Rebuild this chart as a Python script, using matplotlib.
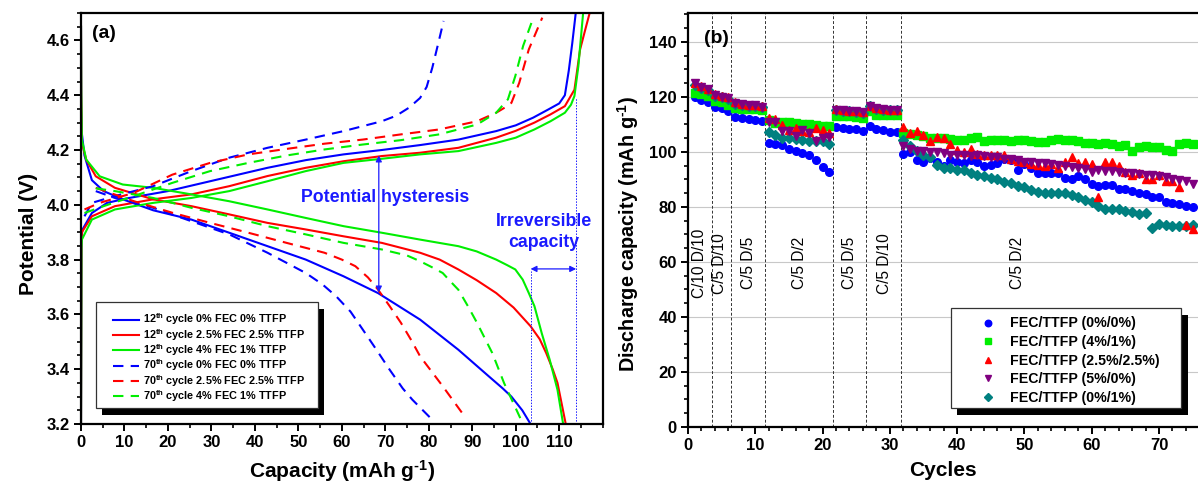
import numpy as np
import matplotlib
matplotlib.use("Agg")
import matplotlib.pyplot as plt
from matplotlib.patches import Rectangle
from matplotlib.transforms import IdentityTransform
from matplotlib.ticker import MultipleLocator

plt.rcParams['font.family'] = ['Liberation Sans', 'DejaVu Sans']
plt.rcParams['font.weight'] = 'bold'
plt.rcParams['mathtext.fontset'] = 'custom'
plt.rcParams['mathtext.rm'] = 'Liberation Sans:bold'
plt.rcParams['mathtext.bf'] = 'Liberation Sans:bold'
plt.rcParams['mathtext.it'] = 'Liberation Sans:bold'

# ---------------- Panel (a) data: capacity (mAh/g) vs potential (V) ----------------
# 12th cycle 0% FEC 0% TTFP
cap_b12_chg = [0, 0.1, 0.35, 2.5, 6, 10.4, 20, 29.7, 42.9, 51.7, 60.4, 69.2, 78, 86.8, 95.5, 100, 104, 107.5, 110, 111.3, 112.2, 113, 113.8]
v_b12_chg = [3.2, 3.88, 3.91, 3.97, 4.007, 4.023, 4.05, 4.086, 4.135, 4.163, 4.184, 4.20, 4.218, 4.238, 4.269, 4.29, 4.318, 4.348, 4.37, 4.40, 4.49, 4.59, 4.70]
cap_b12_dis = [0, 0.05, 0.2, 0.8, 2.5, 5.2, 9.6, 16.6, 25.4, 34.1, 42.9, 51.7, 60.4, 68.3, 78, 86.8, 93.8, 97, 99, 101.5, 103.4]
v_b12_dis = [4.65, 4.35, 4.26, 4.18, 4.09, 4.05, 4.02, 3.98, 3.946, 3.898, 3.849, 3.80, 3.739, 3.678, 3.581, 3.471, 3.374, 3.33, 3.30, 3.25, 3.2]
# 12th cycle 2.5% FEC 2.5% TTFP
cap_r12_chg = [0, 0.1, 0.2, 2.5, 7.8, 16.6, 25.4, 34.1, 42.9, 51.7, 60.4, 69.2, 78, 86.8, 95.5, 100, 104.3, 108, 111.3, 113.5, 114.8, 116, 117]
v_r12_chg = [3.2, 3.86, 3.90, 3.958, 3.995, 4.02, 4.038, 4.068, 4.105, 4.135, 4.159, 4.178, 4.19, 4.208, 4.245, 4.27, 4.30, 4.33, 4.36, 4.42, 4.567, 4.64, 4.70]
cap_r12_dis = [0, 0.05, 0.2, 1.2, 3.4, 7.8, 16.6, 25.4, 34.1, 42.9, 51.7, 60.4, 69.2, 78, 82.5, 86.8, 91, 95.5, 99.5, 103.4, 105.5, 107, 108.5, 109.6, 111.5]
v_r12_dis = [4.65, 4.40, 4.226, 4.165, 4.104, 4.062, 4.02, 3.995, 3.965, 3.934, 3.91, 3.885, 3.861, 3.825, 3.80, 3.764, 3.725, 3.678, 3.625, 3.557, 3.51, 3.459, 3.40, 3.35, 3.2]
# 12th cycle 4% FEC 1% TTFP
cap_g12_chg = [0, 0.1, 0.2, 2.5, 7.8, 16.6, 25.4, 34.1, 42.9, 51.7, 60.4, 69.2, 78, 86.8, 95.5, 100, 104.3, 108, 111.3, 112.7, 113.5, 114.4, 115.5]
v_g12_chg = [3.2, 3.84, 3.873, 3.946, 3.983, 4.007, 4.025, 4.05, 4.086, 4.123, 4.153, 4.168, 4.184, 4.196, 4.226, 4.245, 4.275, 4.305, 4.336, 4.365, 4.397, 4.506, 4.70]
cap_g12_dis = [0, 0.05, 0.2, 1.2, 4.3, 9.6, 16.6, 25.4, 34.1, 42.9, 51.7, 60.4, 69.2, 78, 86.8, 91, 95.5, 98, 99.9, 101.6, 103, 104.3, 106, 107.8, 109.6, 110.9]
v_g12_dis = [4.65, 4.42, 4.238, 4.165, 4.104, 4.074, 4.062, 4.038, 4.013, 3.983, 3.952, 3.922, 3.898, 3.873, 3.849, 3.83, 3.80, 3.78, 3.764, 3.727, 3.678, 3.63, 3.53, 3.435, 3.325, 3.2]
# 70th cycle 0% FEC 0% TTFP
cap_b70_chg = [0.8, 2.5, 7.8, 16.6, 25.4, 34.1, 42.9, 51.7, 60.4, 69.2, 72.5, 75.5, 78, 79.5, 80.8, 82.4, 83.4]
v_b70_chg = [3.958, 4.007, 4.032, 4.068, 4.123, 4.172, 4.208, 4.238, 4.269, 4.305, 4.325, 4.355, 4.39, 4.43, 4.50, 4.604, 4.671]
cap_b70_dis = [3.4, 7.8, 16.6, 25.4, 34.1, 42.9, 51.7, 55.5, 58.7, 62, 64.8, 68, 71, 74, 76.2, 80.2]
v_b70_dis = [4.05, 4.025, 3.989, 3.94, 3.892, 3.825, 3.751, 3.71, 3.666, 3.61, 3.545, 3.47, 3.398, 3.33, 3.289, 3.225]
# 70th cycle 2.5% FEC 2.5% TTFP
cap_r70_chg = [0.8, 4.3, 12.2, 21, 29.7, 38.5, 47.3, 56, 64.8, 73.6, 82.4, 91.1, 95.5, 97.5, 99, 100.8, 103, 106.1]
v_r70_chg = [3.983, 4.007, 4.044, 4.11, 4.153, 4.184, 4.204, 4.223, 4.238, 4.257, 4.275, 4.305, 4.336, 4.355, 4.372, 4.445, 4.567, 4.683]
cap_r70_dis = [3.4, 12.2, 21, 29.7, 38.5, 47.3, 56, 60, 63.1, 66, 68.3, 71, 73.6, 76, 78, 83.2, 88.5]
v_r70_dis = [4.062, 4.013, 3.971, 3.934, 3.898, 3.861, 3.825, 3.80, 3.776, 3.735, 3.691, 3.63, 3.569, 3.505, 3.447, 3.338, 3.222]
# 70th cycle 4% FEC 1% TTFP
cap_g70_chg = [0.8, 5.2, 12.2, 21, 29.7, 38.5, 47.3, 56, 64.8, 73.6, 82.4, 91.1, 95.5, 98.2, 99.9, 101.7, 103.9]
v_g70_chg = [3.97, 3.995, 4.032, 4.08, 4.123, 4.153, 4.18, 4.202, 4.22, 4.236, 4.257, 4.293, 4.336, 4.385, 4.47, 4.58, 4.677]
cap_g70_dis = [3.4, 7.8, 16.6, 25.4, 34.1, 42.9, 51.7, 60.4, 69.2, 75, 78, 81, 83.2, 85, 86.8, 89, 91.1, 94.6, 97.3, 101.2]
v_g70_dis = [4.06, 4.05, 4.025, 3.989, 3.958, 3.922, 3.892, 3.861, 3.837, 3.815, 3.794, 3.77, 3.751, 3.72, 3.69, 3.63, 3.569, 3.459, 3.35, 3.216]

labels_a = [r"12$^{\mathrm{th}}$ cycle 0% FEC 0% TTFP",
            r"12$^{\mathrm{th}}$ cycle 2.5% FEC 2.5% TTFP",
            r"12$^{\mathrm{th}}$ cycle 4% FEC 1% TTFP",
            r"70$^{\mathrm{th}}$ cycle 0% FEC 0% TTFP",
            r"70$^{\mathrm{th}}$ cycle 2.5% FEC 2.5% TTFP",
            r"70$^{\mathrm{th}}$ cycle 4% FEC 1% TTFP"]

# ---------------- Panel (b) data: discharge capacity vs cycle ----------------
cycles = np.arange(1, 76)
cap_0_0 = [120.0, 119.0, 118.0, 116.5, 115.8, 114.8, 112.6, 112.4, 111.9, 111.7, 111.4,
           103.4, 102.8, 102.6, 101.0, 100.4, 99.5, 98.9, 96.9, 94.5, 92.8,
           109.0, 108.6, 108.4, 108.3, 107.5,
           109.5, 108.3, 108.0, 107.4, 107.2,
           99.3, 99.8, 96.9, 96.2, 97.8, 96.2, 95.0, 96.9, 96.4, 96.0,
           97.1, 96.4, 95.0, 95.4, 95.9, 97.4, 97.0, 93.5, 95.7, 94.0,
           92.5, 92.3, 92.3, 92.3, 90.5, 90.1, 91.1, 90.1, 88.4, 87.7,
           88.0, 87.9, 86.6, 86.6, 85.9, 84.9, 84.7, 83.6, 83.6, 81.9,
           81.6, 80.9, 80.5, 79.9]
cap_4_1 = [121.5, 121.1, 120.4, 118.4, 118.1, 117.1, 115.8, 115.5, 115.5, 115.7, 115.3,
           111.5, 110.6, 110.7, 110.7, 110.5, 110.3, 110.3, 109.8, 109.6, 109.6,
           113.2, 113.2, 113.2, 112.8, 112.5,
           114.7, 113.5, 113.5, 113.5, 113.5,
           106.8, 106.6, 106.3, 105.8, 105.1, 105.1, 104.9, 104.6, 104.4, 104.4,
           105.1, 105.4, 103.9, 104.2, 104.2, 104.2, 103.9, 104.4, 104.2, 103.9,
           103.7, 103.7, 104.2, 104.6, 104.4, 104.2, 103.9, 103.2, 103.2, 102.9,
           103.4, 102.9, 102.0, 102.5, 100.5, 101.7, 102.0, 101.7, 101.7, 100.8,
           100.3, 102.9, 103.2, 102.9]
cap_25_25 = [125.0, 124.0, 123.0, 121.0, 120.5, 120.0, 118.0, 117.5, 117.2, 117.0, 116.8,
             112.3, 111.8, 109.8, 107.9, 108.6, 107.5, 107.2, 108.7, 108.1, 107.0,
             115.5, 115.3, 115.0, 114.8, 114.6,
             116.8, 116.0, 115.6, 115.4, 115.4,
             109.1, 106.9, 107.7, 106.2, 103.9, 105.5, 105.2, 102.7, 100.6, 100.0,
             101.2, 99.4, 98.8, 98.8, 99.0, 98.8, 97.6, 96.6, 96.2, 95.7,
             95.2, 95.0, 95.7, 94.0, 96.2, 98.3, 95.9, 96.2, 95.7, 83.6,
             96.4, 96.2, 94.7, 92.8, 91.6, 92.3, 90.3, 90.1, 91.6, 89.4,
             89.4, 87.2, 73.5, 72.0]
cap_5_0 = [124.9, 123.6, 122.8, 120.6, 120.0, 119.6, 117.8, 117.4, 117.0, 117.0, 116.5,
           111.0, 110.8, 107.5, 107.5, 105.8, 107.8, 106.9, 103.9, 105.0, 105.6,
           115.4, 115.2, 115.0, 114.7, 114.5,
           116.8, 115.8, 115.5, 115.3, 115.3,
           102.0, 101.0, 100.5, 100.2, 100.0, 99.8, 99.5, 99.0, 99.0, 98.8,
           98.6, 98.8, 98.5, 98.3, 98.0, 97.5, 97.3, 97.0, 96.5, 96.3,
           96.0, 95.8, 95.5, 95.3, 95.0, 94.5, 94.3, 93.8, 92.8, 93.3,
           93.2, 93.0, 92.8, 92.5, 92.3, 92.0, 91.7, 91.5, 91.2, 90.8,
           90.3, 89.8, 89.3, 88.5]
cap_0_1 = [124.5, 123.4, 122.6, 120.5, 119.8, 119.4, 117.6, 117.2, 116.8, 116.8, 116.4,
           107.1, 106.1, 105.2, 104.9, 104.6, 104.3, 104.0, 103.9, 104.0, 102.9,
           115.2, 115.0, 114.8, 114.5, 114.3,
           116.6, 115.6, 115.3, 115.1, 115.1,
           104.5, 102.2, 100.5, 98.9, 98.2, 95.3, 94.3, 94.0, 93.6, 93.4,
           92.2, 91.7, 91.3, 90.5, 90.0, 89.1, 88.8, 87.7, 87.2, 86.1,
           85.3, 84.9, 85.0, 85.1, 85.1, 84.4, 83.6, 82.5, 81.7, 80.3,
           79.3, 79.3, 79.2, 78.6, 78.0, 77.5, 77.9, 72.5, 73.8, 73.5,
           73.0, 73.0, 73.2, 73.6]
labels_b = ["FEC/TTFP (0%/0%)", "FEC/TTFP (4%/1%)", "FEC/TTFP (2.5%/2.5%)",
            "FEC/TTFP (5%/0%)", "FEC/TTFP (0%/1%)"]
rate_dividers = [3.5, 6.4, 11.5, 21.6, 26.4, 31.7]
rate_labels = ["C/10 D/10", "C/5 D/10", "C/5 D/5", "C/5 D/2", "C/5 D/5", "C/5 D/10", "C/5 D/2"]
rate_label_x = [1.7, 4.7, 9.0, 16.5, 24.0, 29.2, 49.0]

BLUE, RED, GREEN = '#0000ff', '#ff0000', '#00ee00'
PURPLE, TEAL = '#800080', '#008080'

fig = plt.figure(figsize=(11.98, 4.83), dpi=100)
W, H = 1198, 483
axa = fig.add_axes([81 / W, 1 - 424 / H, (602.7 - 81) / W, (424 - 13) / H])
axb = fig.add_axes([688 / W, 1 - 427 / H, (1198 - 688) / W, (427 - 13) / H])

lw = 1.5
dash = (0, (5, 3.5))
curves = [(cap_b12_chg, v_b12_chg, cap_b12_dis, v_b12_dis, BLUE, '-'),
          (cap_r12_chg, v_r12_chg, cap_r12_dis, v_r12_dis, RED, '-'),
          (cap_g12_chg, v_g12_chg, cap_g12_dis, v_g12_dis, GREEN, '-'),
          (cap_b70_chg, v_b70_chg, cap_b70_dis, v_b70_dis, BLUE, dash),
          (cap_r70_chg, v_r70_chg, cap_r70_dis, v_r70_dis, RED, dash),
          (cap_g70_chg, v_g70_chg, cap_g70_dis, v_g70_dis, GREEN, dash)]
handles_a = []
for (xc, yc, xd, yd, c, ls), lab in zip(curves, labels_a):
    h, = axa.plot(xc, yc, color=c, ls=ls, lw=lw, label=lab)
    axa.plot(xd, yd, color=c, ls=ls, lw=lw)
    handles_a.append(h)

axa.set_xlim(0, 120)
axa.set_ylim(3.2, 4.7)
axa.set_xticks(np.arange(0, 111, 10))
axa.set_yticks(np.arange(3.2, 4.61, 0.2))
axa.set_yticklabels([f"{v:.1f}" for v in np.arange(3.2, 4.61, 0.2)])
axa.xaxis.set_minor_locator(MultipleLocator(5))
axa.yaxis.set_minor_locator(MultipleLocator(0.05))
axa.set_xlabel(r"Capacity (mAh g$^{\text{-}1}$)", fontsize=15, fontweight='bold', labelpad=6)
axa.set_ylabel("Potential (V)", fontsize=15, fontweight='bold', labelpad=6)
axa.yaxis.label.set_y(0.462)
axa.text(2.5, 4.627, "(a)", fontsize=14, fontweight='bold', va='center')

ann_c = '#1a1aff'
axa.annotate("", xy=(68.5, 4.18), xytext=(68.5, 3.68),
             arrowprops=dict(arrowstyle='<|-|>', color=ann_c, lw=0.9, mutation_scale=9, shrinkA=0, shrinkB=0))
axa.text(70, 4.028, "Potential hysteresis", color=ann_c, fontsize=12.8, fontweight='bold', ha='center', va='center')
axa.annotate("", xy=(103.4, 3.766), xytext=(113.9, 3.766),
             arrowprops=dict(arrowstyle='<|-|>', color=ann_c, lw=0.9, mutation_scale=9, shrinkA=0, shrinkB=0))
axa.text(106.4, 3.90, "Irreversible\ncapacity", color=ann_c, fontsize=12.8, fontweight='bold',
         ha='center', va='center', linespacing=1.3)
axa.plot([103.4, 103.4], [3.2, 3.76], color=ann_c, ls=(0, (1.5, 1.5)), lw=0.7)
axa.plot([113.9, 113.9], [3.2, 4.39], color=ann_c, ls=(0, (1.5, 1.5)), lw=0.7)

# ---------------- Panel (b) ----------------
series = [(cap_0_0, BLUE, 'o', 3), (cap_4_1, GREEN, 's', 3), (cap_25_25, RED, '^', 3.2),
          (cap_5_0, PURPLE, 'v', 3.4), (cap_0_1, TEAL, 'D', 3.1)]
handles_b = []
for (vals, c, m, z), lab in zip(series, labels_b):
    ms = 4.6 if m == 'D' else 5.5
    h, = axb.plot(cycles, vals, ls='none', marker=m, color=c, mec=c, ms=ms, zorder=z, label=lab)
    handles_b.append(h)

axb.set_xlim(0, 75.8)
axb.set_ylim(0, 150.5)
axb.set_xticks(np.arange(0, 71, 10))
axb.set_yticks(np.arange(0, 141, 20))
axb.xaxis.set_minor_locator(MultipleLocator(2))
axb.yaxis.set_minor_locator(MultipleLocator(5))
axb.grid(axis='y', which='major', color='#c8c8c8', lw=0.8)
axb.set_axisbelow(True)
axb.spines['right'].set_visible(False)
for xv in rate_dividers:
    axb.axvline(xv, color='#333333', ls=(0, (3, 2)), lw=0.7, zorder=1)
for xv, t in zip(rate_label_x, rate_labels):
    axb.text(xv, 59.5, t, rotation=90, ha='center', va='center', fontsize=11.2, fontweight='normal')
axb.text(2.4, 141.2, "(b)", fontsize=14, fontweight='bold', va='center')
axb.set_xlabel("Cycles", fontsize=15, fontweight='bold', labelpad=6)
axb.set_ylabel(r"Discharge capacity (mAh g$^{\text{-}1}$)", fontsize=14.3, fontweight='bold', labelpad=6)
axb.yaxis.label.set_y(0.465)

for ax in (axa, axb):
    for s in ax.spines.values():
        s.set_linewidth(1.6)
    ax.tick_params(which='major', direction='out', length=5, width=1.4, labelsize=12, pad=3)
    ax.tick_params(which='minor', direction='out', length=3, width=1.2)
    for lab in ax.get_xticklabels() + ax.get_yticklabels():
        lab.set_fontweight('bold')

# legend boxes (pixel positions, from top-left of the figure) with black drop shadows
def framed_box(ax, x0, y0, x1, y1, off=6.5):
    yb = H - y1
    sh = Rectangle((x0 + off, yb - off), x1 - x0, y1 - y0, transform=IdentityTransform(),
                   facecolor='black', edgecolor='none', zorder=8, clip_on=False)
    bx = Rectangle((x0, yb), x1 - x0, y1 - y0, transform=IdentityTransform(),
                   facecolor='white', edgecolor='#333333', lw=0.9, zorder=9, clip_on=False)
    ax.add_patch(sh)
    ax.add_patch(bx)

framed_box(axa, 95.7, 302.3, 317.7, 408.3)
framed_box(axb, 950.7, 308.3, 1181.3, 408.3)

leg_a = axa.legend(handles=handles_a, loc='upper left', bbox_to_anchor=(113.3 / W, 1 - 311.5 / H),
                   bbox_transform=fig.transFigure, frameon=False, fontsize=7.8,
                   handlelength=2.4, handletextpad=0.37, labelspacing=-0.04, borderpad=0,
                   borderaxespad=0)
leg_b = axb.legend(handles=handles_b, loc='upper left', bbox_to_anchor=(979.7 / W, 1 - 316.5 / H),
                   bbox_transform=fig.transFigure, frameon=False, fontsize=10.2,
                   handlelength=1.2, handletextpad=0.95, labelspacing=0.32, borderpad=0,
                   borderaxespad=0, markerscale=0.85)
for leg in (leg_a, leg_b):
    leg.set_zorder(10)
    for t in leg.get_texts():
        t.set_fontweight('bold')

fig.savefig("out.png", dpi=100)
